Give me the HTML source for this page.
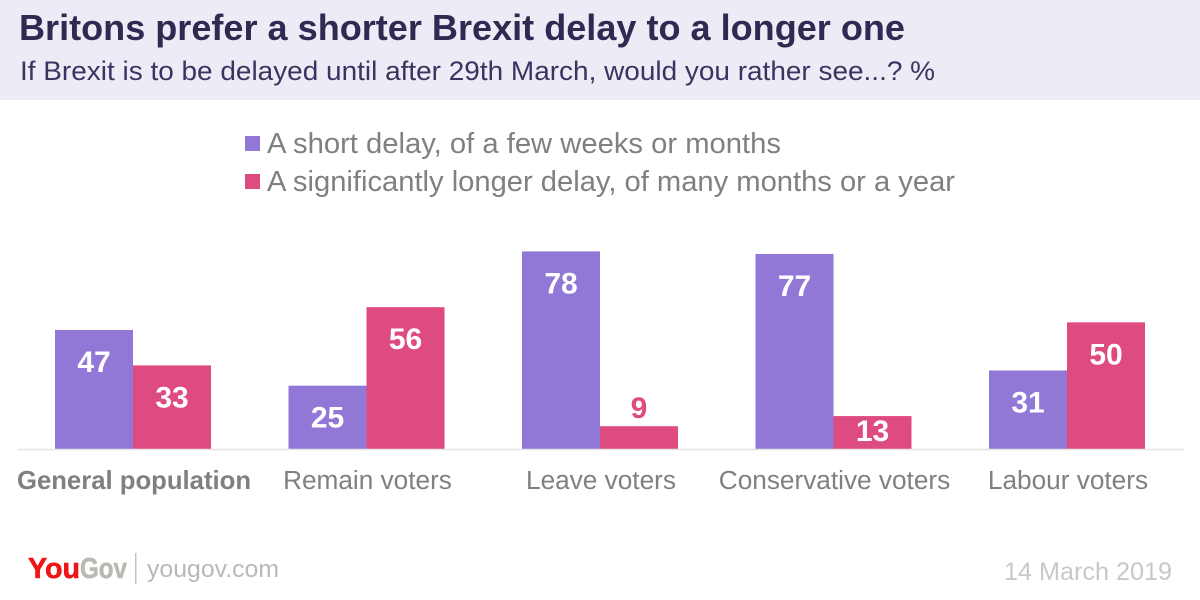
<!DOCTYPE html>
<html lang="en">
<head>
<meta charset="utf-8">
<title>Britons prefer a shorter Brexit delay to a longer one</title>
<style>
html,body{margin:0;padding:0;background:#fff;}
body{width:1200px;height:600px;overflow:hidden;font-family:"Liberation Sans",sans-serif;}
svg{display:block;}
text{font-family:"Liberation Sans",sans-serif;}
</style>
</head>
<body>
<svg id="chart" xmlns="http://www.w3.org/2000/svg" width="1200" height="600" viewBox="0 0 1200 600">
  <rect x="0" y="0" width="1200" height="600" fill="#ffffff"/>
  <rect x="0" y="0" width="1200" height="100" fill="#eeebf6"/>
  <text x="19" y="40" font-size="36" font-weight="700" fill="#302a52" textLength="886" lengthAdjust="spacingAndGlyphs">Britons prefer a shorter Brexit delay to a longer one</text>
  <text x="20" y="80" font-size="27" fill="#3a3460" textLength="915" lengthAdjust="spacingAndGlyphs">If Brexit is to be delayed until after 29th March, would you rather see...? %</text>

  <rect x="245" y="136" width="15" height="15" fill="#9178d6"/>
  <text x="267" y="153" font-size="29" fill="#808080" textLength="514" lengthAdjust="spacingAndGlyphs">A short delay, of a few weeks or months</text>
  <rect x="245" y="174" width="15" height="15" fill="#de4b80"/>
  <text x="267" y="191" font-size="29" fill="#808080" textLength="688" lengthAdjust="spacingAndGlyphs">A significantly longer delay, of many months or a year</text>

  <g id="plot"></g>

  <text x="28" y="578" font-size="29" font-weight="700" fill="#f01414" stroke="#f01414" stroke-width="0.6" textLength="52" lengthAdjust="spacingAndGlyphs">You</text>
  <text x="80" y="578" font-size="29" font-weight="700" fill="#b9b9b2" stroke="#b9b9b2" stroke-width="0.6" textLength="47" lengthAdjust="spacingAndGlyphs">Gov</text>
  <rect x="135" y="553" width="1.5" height="31" fill="#c4c4be"/>
  <text x="147" y="577" font-size="24" fill="#b9b9b9" textLength="132" lengthAdjust="spacingAndGlyphs">yougov.com</text>
  <text x="1004" y="580" font-size="25" fill="#c8c8c8" textLength="168" lengthAdjust="spacingAndGlyphs">14 March 2019</text>
</svg>
<script>
const categories = ["General population", "Remain voters", "Leave voters", "Conservative voters", "Labour voters"];
const shortDelay = [47, 25, 78, 77, 31];
const longerDelay = [33, 56, 9, 13, 50];

const svgNS = "http://www.w3.org/2000/svg";
const plot = document.getElementById("plot");
const baseY = 449;
const unitPx = 2.533;
const firstCenter = 133;
const bandStep = 233.5;
const barW = 78;
const purple = "#9178d6";
const pink = "#de4b80";

function yScale(v) { return baseY - v * unitPx; }
function xCenter(i) { return firstCenter + i * bandStep; }
function slug(s) { return s.toLowerCase().replace(/\s+/g, "-"); }

function drawBar(v, x, color) {
  const r = document.createElementNS(svgNS, "rect");
  r.setAttribute("x", x);
  r.setAttribute("y", yScale(v));
  r.setAttribute("width", barW);
  r.setAttribute("height", baseY - yScale(v));
  r.setAttribute("fill", color);
  return r;
}

function drawValue(v, cx, color) {
  const t = document.createElementNS(svgNS, "text");
  const top = yScale(v);
  let y, fill = "#ffffff";
  if (v < 10) { y = top - 8; fill = color; }
  else if (v < 20) { y = top + 25; }
  else { y = top + 42; }
  t.setAttribute("x", cx);
  t.setAttribute("y", y);
  t.setAttribute("text-anchor", "middle");
  t.setAttribute("font-size", "30");
  t.setAttribute("font-weight", "700");
  t.setAttribute("fill", fill);
  t.textContent = v;
  return t;
}

categories.forEach(function (cat, i) {
  const c = xCenter(i);
  const key = slug(cat);

  const a = drawBar(shortDelay[i], c - barW, purple);
  
  
  plot.appendChild(a);

  const b = drawBar(longerDelay[i], c, pink);
  
  
  plot.appendChild(b);

  const la = drawValue(shortDelay[i], c - barW / 2, purple);
  
  
  plot.appendChild(la);

  const lb = drawValue(longerDelay[i], c + barW / 2, pink);
  
  
  plot.appendChild(lb);

  const label = document.createElementNS(svgNS, "text");
  label.setAttribute("x", c + 1);
  label.setAttribute("y", 489);
  label.setAttribute("text-anchor", "middle");
  label.setAttribute("font-size", i === 0 ? "25.7" : "26.2");
  label.setAttribute("font-weight", i === 0 ? "700" : "400");
  label.setAttribute("fill", "#808080");
  label.textContent = cat;
  
  
  plot.appendChild(label);
});

const axis = document.createElementNS(svgNS, "line");
axis.setAttribute("x1", 17);
axis.setAttribute("x2", 1184);
axis.setAttribute("y1", baseY + 0.5);
axis.setAttribute("y2", baseY + 0.5);
axis.setAttribute("stroke", "#e4e4e4");
axis.setAttribute("stroke-width", 1.5);


plot.appendChild(axis);
</script>
</body>
</html>
